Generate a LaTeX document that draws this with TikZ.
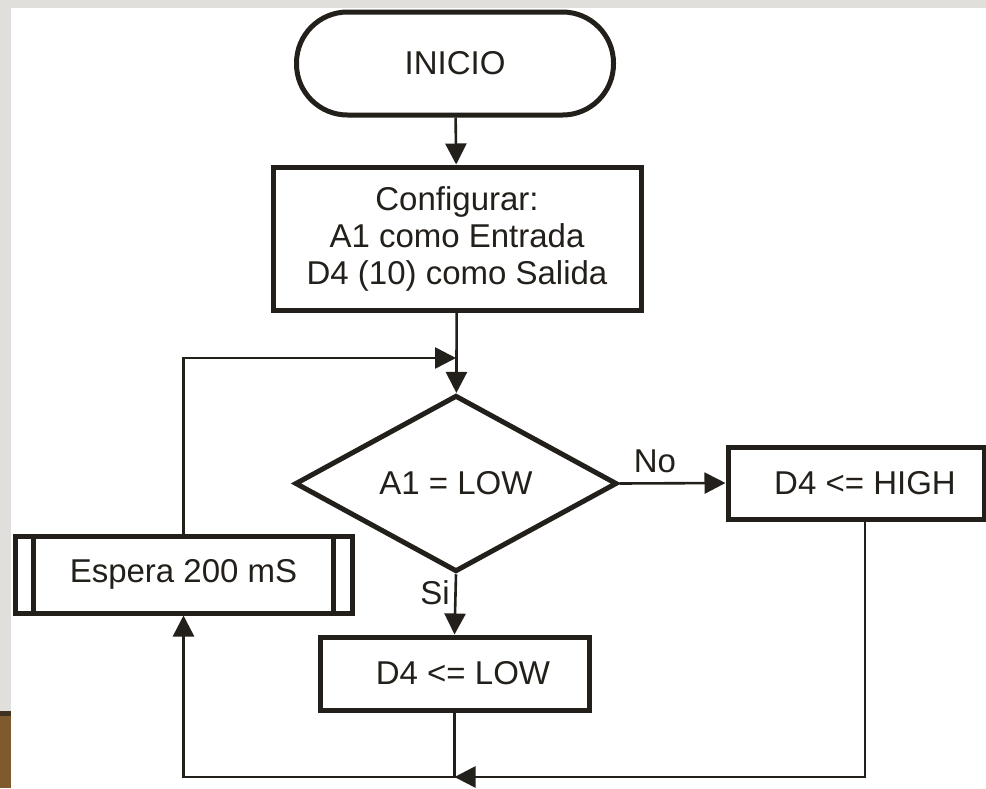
\documentclass[tikz,border=0pt]{standalone}
\usepackage{fontspec}
\setmainfont{Liberation Sans}
\usetikzlibrary{shapes.geometric,arrows.meta}
\definecolor{ink}{HTML}{231F1B}
\definecolor{bggray}{HTML}{E1DFDB}
\definecolor{wood}{HTML}{7E5A2E}
\begin{document}
\begin{tikzpicture}[x=1pt,y=-1pt,
  box/.style={draw=ink,line width=5pt,inner sep=0pt,font=\fontsize{33}{37}\selectfont,text=ink,align=center},
  conn/.style={draw=ink,line width=2.6pt,-{Triangle[length=21pt,width=21pt]}},
  lbl/.style={font=\fontsize{33}{37}\selectfont,text=ink,inner sep=0pt}]
\useasboundingbox (0,0) rectangle (986,788);
\fill[white] (0,0) rectangle (986,788);
\fill[bggray] (0,0) rectangle (986,8);
\fill[bggray] (0,0) rectangle (11,713);
\fill[wood] (0,713) rectangle (11,788);
\fill[ink!70!wood] (0,711) rectangle (11,716);

\node[box,rounded corners=51pt,minimum width=317pt,minimum height=103pt] (start) at (455,63.5) {INICIO};
\node[box,minimum width=368pt,minimum height=143pt] (cfg) at (457,238.5) {Configurar:\\A1 como Entrada\\D4 (10) como Salida};
\node[box,diamond,minimum width=322pt,minimum height=163pt] (dec) at (456,483.5) {A1 = LOW};
\node[box,minimum width=256pt,minimum height=72pt] (high) at (856,483) {\hspace*{18pt}D4 <= HIGH};
\node[box,minimum width=269pt,minimum height=73pt] (low) at (454.5,673.5) {\hspace*{17pt}D4 <= LOW};
\node[box,minimum width=337pt,minimum height=77pt] (esp) at (183.5,574.5) {Espera 200 mS};
\draw[ink,line width=5pt] ([xshift=21pt]esp.north west) -- ([xshift=21pt]esp.south west);
\draw[ink,line width=5pt] ([xshift=-21pt]esp.north east) -- ([xshift=-21pt]esp.south east);

\node[lbl] (no) at (655,461) {No};
\node[lbl] (si) at (435,593) {Si};

\coordinate (j) at (456,358);
\coordinate (hb) at ([xshift=9pt]high.south);
\coordinate (br) at (hb |- 0,777);
\coordinate (bm) at (low.south |- 0,777);
\coordinate (bl) at (esp.south |- 0,777);

\draw[conn] (start) -- (cfg);
\draw[conn] (cfg) -- (dec);
\draw[conn] (esp.north) |- (j);
\draw[conn] (dec.east) -- (high.west);
\draw[conn] (dec.south) -- (low.north);
\draw[conn] (low.south) -- (bm) -- (bl) -- (esp.south);
\draw[conn] (hb) -- (br) -- (bm);
\end{tikzpicture}
\end{document}
